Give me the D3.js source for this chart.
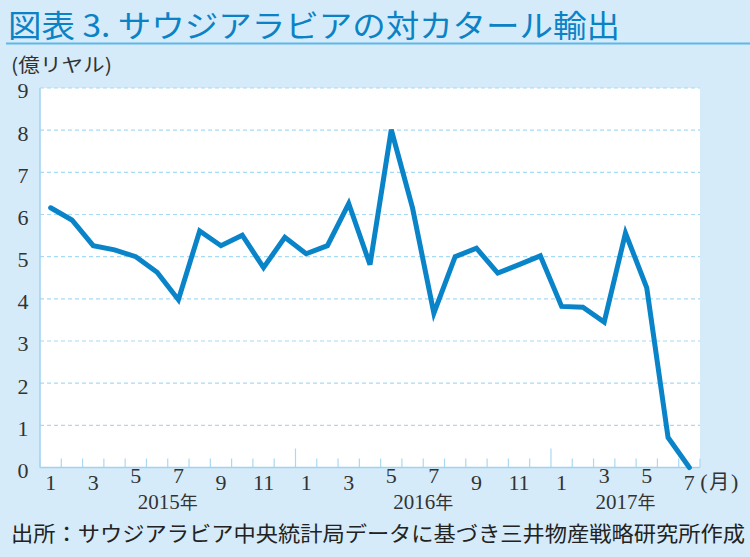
<!DOCTYPE html>
<html><head><meta charset="utf-8">
<script src="https://cdn.jsdelivr.net/npm/d3@7"></script>
<style>
html,body{margin:0;padding:0;background:#d5ebf9;}
svg{display:block;}
</style></head>
<body>
<svg id="chart" width="750" height="557"></svg>
<script>
// ---- data ----
const months = [1,2,3,4,5,6,7,8,9,10,11,12, 1,2,3,4,5,6,7,8,9,10,11,12, 1,2,3,4,5,6,7];
const exportsValues = [6.16,5.87,5.26,5.16,5.00,4.63,3.98,5.61,5.26,5.51,4.74,5.46,
                       5.07,5.26,6.26,4.81,8.01,6.15,3.66,5.00,5.20,4.61,4.81,5.02,
                       3.82,3.80,3.45,5.56,4.26,0.71,0.00];
const yTicks = [0,1,2,3,4,5,6,7,8,9];
const years = [{label:"2015年", from:0, to:11},{label:"2016年", from:12, to:23},{label:"2017年", from:24, to:30}];
const titleText = "図表 3. サウジアラビアの対カタール輸出";
const unitText = "(億リヤル)";
const sourceText = "出所：サウジアラビア中央統計局データに基づき三井物産戦略研究所作成";

const svg = d3.select("#chart");
const W = 750, H = 557;
const plot = {left:40, right:700, top:88, bottom:467.5};
const serif = "'Liberation Serif','Times New Roman',serif";
const jp = "'Noto Sans CJK JP','Noto Sans',sans-serif";

svg.append("rect").attr("width",W).attr("height",H).attr("fill","#d5ebf9");

// title
svg.append("text").attr("x",8).attr("y",37)
  .attr("font-family",jp).attr("font-size",31).attr("font-weight",400)
  .attr("fill","#0b82c6").attr("textLength",612).attr("lengthAdjust","spacingAndGlyphs")
  .text(titleText);
svg.append("line").attr("x1",6).attr("x2",W).attr("y1",43.5).attr("y2",43.5)
  .attr("stroke","#5cb9e7").attr("stroke-width",2);

// unit label
svg.append("text").attr("x",11).attr("y",72)
  .attr("font-family",jp).attr("font-size",19).attr("fill","#333")
  .attr("textLength",101).attr("lengthAdjust","spacingAndGlyphs")
  .text(unitText);

const x = d3.scaleLinear().domain([-0.5, months.length-0.5]).range([plot.left, plot.right]);
const y = d3.scaleLinear().domain([0,9]).range([plot.bottom, plot.top]);

// plot background
svg.append("rect").attr("x",plot.left).attr("y",plot.top)
  .attr("width",plot.right-plot.left).attr("height",plot.bottom-plot.top).attr("fill","#fff");

// grid
svg.append("g").selectAll("line").data(yTicks.filter(d=>d>0)).join("line")
  .attr("x1",plot.left).attr("x2",plot.right)
  .attr("y1",d=>y(d)).attr("y2",d=>y(d))
  .attr("stroke","#a6daf5").attr("stroke-width",1.2).attr("stroke-dasharray","4,3");

// y axis
const yAxis = d3.axisLeft(y).tickValues(yTicks).tickSize(0).tickPadding(0);
const gy = svg.append("g").attr("transform",`translate(${plot.left},0)`).call(yAxis);
gy.select(".domain").remove();
gy.selectAll("text").attr("x",-17).attr("dy","0.45em").attr("text-anchor","middle")
  .attr("font-family",serif).attr("font-size",22).attr("fill","#333");
svg.append("line").attr("x1",plot.left).attr("x2",plot.left).attr("y1",plot.top).attr("y2",plot.bottom)
  .attr("stroke","#9fd3f0").attr("stroke-width",1.5);

// x axis ticks (month boundaries)
const bounds = d3.range(-1, months.length).map(i=>i+0.5);
svg.append("g").selectAll("line").data(bounds).join("line")
  .attr("x1",d=>x(d)).attr("x2",d=>x(d))
  .attr("y1",d=>(Math.abs(d-11.5)<0.01||Math.abs(d-23.5)<0.01)? plot.bottom-19 : plot.bottom-9)
  .attr("y2",plot.bottom)
  .attr("stroke","#a9d9f3").attr("stroke-width",1.2);
svg.append("line").attr("x1",plot.left).attr("x2",plot.right).attr("y1",plot.bottom).attr("y2",plot.bottom)
  .attr("stroke","#9fd3f0").attr("stroke-width",1.5);

// year labels
const yearCenters = years.map(d => (x(d.from)+x(d.to))/2);
svg.append("g").selectAll("text").data(years).join("text")
  .attr("x",(d,i)=>yearCenters[i]).attr("y",509)
  .attr("text-anchor","middle").attr("font-family",serif).attr("font-size",21).attr("fill","#333")
  .each(function(d){
    const t = d3.select(this);
    t.append("tspan").text(d.label.slice(0,4));
    t.append("tspan").attr("font-family",jp).attr("font-size",18).text(d.label.slice(4));
  });

// month labels (odd months)
const monthIdx = d3.range(months.length).filter(i=>months[i]%2===1);
svg.append("g").selectAll("text").data(monthIdx).join("text")
  .attr("x",i=>x(i)).attr("y",i=>{
    const near = yearCenters.some(c=>Math.abs(c - x(i))<45);
    return near ? 483 : 490;
  })
  .attr("text-anchor","middle").attr("font-family",serif).attr("font-size",22).attr("fill","#333")
  .text(i=>months[i]);
// (月)
svg.append("text").attr("x",x(months.length-1)+11).attr("y",489)
  .attr("font-family",serif).attr("font-size",22).attr("fill","#333")
  .attr("textLength",38).attr("lengthAdjust","spacing")
  .each(function(){
    const t=d3.select(this);
    t.append("tspan").text("(");
    t.append("tspan").attr("font-family",jp).attr("font-size",20).text("月");
    t.append("tspan").text(")");
  });

// line
const line = d3.line().x((d,i)=>x(i)).y(d=>y(d));
svg.append("path").datum(exportsValues).attr("d",line)
  .attr("fill","none").attr("stroke","#0a84c8").attr("stroke-width",5)
  .attr("stroke-linejoin","miter").attr("stroke-miterlimit",4).attr("stroke-linecap","round");

// source
svg.append("text").attr("x",11).attr("y",541)
  .attr("font-family",jp).attr("font-size",21).attr("fill","#222")
  .attr("textLength",734).attr("lengthAdjust","spacingAndGlyphs")
  .text(sourceText);
</script>
</body></html>
